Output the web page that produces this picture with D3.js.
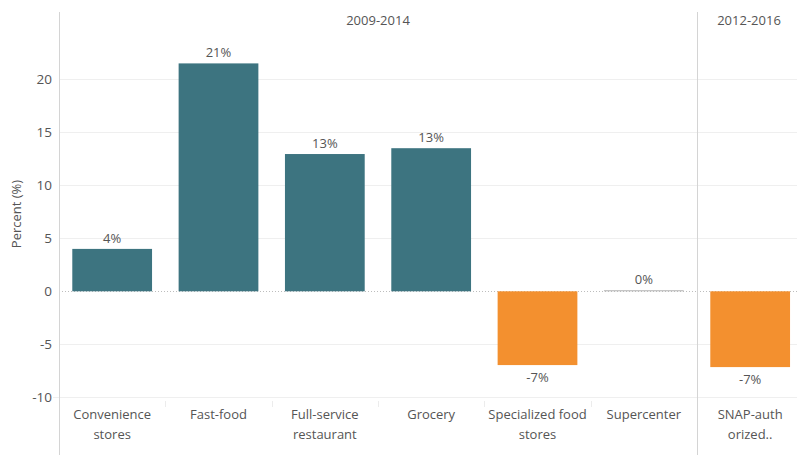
<!DOCTYPE html>
<html><head><meta charset="utf-8">
<script src="https://cdn.jsdelivr.net/npm/d3@7"></script>
<style>
body{margin:0;background:#fff;}
text{font-family:"Open Sans","Noto Sans",sans-serif;fill:#555;}
</style></head>
<body><svg id="c" width="797" height="455"></svg>
<script>
const panel1Title = "2009-2014";
const panel1Categories = [["Convenience","stores"],["Fast-food"],["Full-service","restaurant"],["Grocery"],["Specialized food","stores"],["Supercenter"]];
const panel1Values = [4.0, 21.5, 12.95, 13.5, -6.96, 0.1];
const panel1Labels = ["4%","21%","13%","13%","-7%","0%"];
const panel2Title = "2012-2016";
const panel2Categories = [["SNAP-auth","orized.."]];
const panel2Values = [-7.15];
const panel2Labels = ["-7%"];
const yTicks = [-10,-5,0,5,10,15,20];

const svg = d3.select("#c");
const W = 797, H = 455;
const leftX = 59, splitX = 697, topY = 12;
const y = d3.scaleLinear().domain([-10,20]).range([397.3,79.3]);

svg.append("g").selectAll("line").data(yTicks.filter(t=>t!==0)).join("line")
  .attr("x1", t => t===-10 ? 53 : leftX).attr("x2", W)
  .attr("y1", d=>Math.round(y(d))+0.5).attr("y2", d=>Math.round(y(d))+0.5)
  .attr("stroke","#efefef").attr("stroke-width",1);

const yAxis = d3.axisLeft(y).tickValues(yTicks).tickSize(0).tickPadding(7).tickFormat(d=>String(d));
const ga = svg.append("g").attr("transform",`translate(${leftX},0)`).call(yAxis);
ga.select(".domain").remove();
ga.selectAll("text").attr("font-size",13.5).style("fill","#555").attr("font-family","'Open Sans','Noto Sans',sans-serif");

svg.append("text").attr("transform",`translate(21,214) rotate(-90)`)
  .attr("text-anchor","middle").attr("font-size",13).text("Percent (%)");

function color(v){ return v > 0.5 ? "#3d7480" : (v < -0.5 ? "#f3902f" : "#b5b5b5"); }

function drawPanel(x0, x1, cats, vals, labels, title){
  const keys = cats.map((c,i)=>i);
  const step = (splitX-leftX)/6;
  const x = d3.scaleBand().domain(keys).range([x0, x0 + step*cats.length]).paddingInner(0.25).paddingOuter(0.125);
  const g = svg.append("g");
  g.append("line").attr("x1",x0).attr("x2",x1).attr("y1",Math.round(y(0))+0.5).attr("y2",Math.round(y(0))+0.5)
    .attr("stroke","#bdbdbd").attr("stroke-dasharray","1,2");
  g.selectAll("rect").data(keys).join("rect")
    .attr("x",i=>x(i)).attr("width",x.bandwidth())
    .attr("y",i=>y(Math.max(0,vals[i]))).attr("height",i=>Math.max(1,Math.abs(y(vals[i])-y(0))))
    .attr("fill",i=>color(vals[i]));
  g.selectAll("text.v").data(keys).join("text").attr("class","v")
    .attr("x",i=>x(i)+x.bandwidth()/2)
    .attr("y",i=> vals[i] >= 0 ? y(vals[i]) - 6 : y(vals[i]) + 17)
    .attr("text-anchor","middle").attr("font-size",13).text(i=>labels[i]);
  const lg = g.selectAll("text.c").data(keys).join("text").attr("class","c")
    .attr("text-anchor","middle").attr("font-size",13)
    .attr("x",i=>x(i)+x.bandwidth()/2).attr("y",419);
  lg.selectAll("tspan").data(i=>cats[i].map(s=>({s,cx:x(i)+x.bandwidth()/2}))).join("tspan")
    .attr("x",d=>d.cx).attr("dy",(d,j)=>j===0?0:20).text(d=>d.s);
  g.selectAll("line.sep").data(keys.slice(1)).join("line").attr("class","sep")
    .attr("x1",i=>Math.round(x(i)-x.step()*x.paddingInner()/2)+0.5).attr("x2",i=>Math.round(x(i)-x.step()*x.paddingInner()/2)+0.5)
    .attr("y1",401).attr("y2",407).attr("stroke","#ececec");
  if (title) svg.append("text").attr("x",(x0+x1)/2).attr("y",25).attr("text-anchor","middle")
    .attr("font-size",13).text(title);
}
drawPanel(leftX, splitX, panel1Categories, panel1Values, panel1Labels, panel1Title);
drawPanel(splitX, W, panel2Categories, panel2Values, panel2Labels, "");
svg.append("text").attr("x",749).attr("y",25).attr("text-anchor","middle").attr("font-size",13).text(panel2Title);

[leftX, splitX].forEach(xx=>{
  svg.append("line").attr("x1",xx+0.5).attr("x2",xx+0.5).attr("y1",topY).attr("y2",H).attr("stroke","#d4d4d4");
});
</script></body></html>
